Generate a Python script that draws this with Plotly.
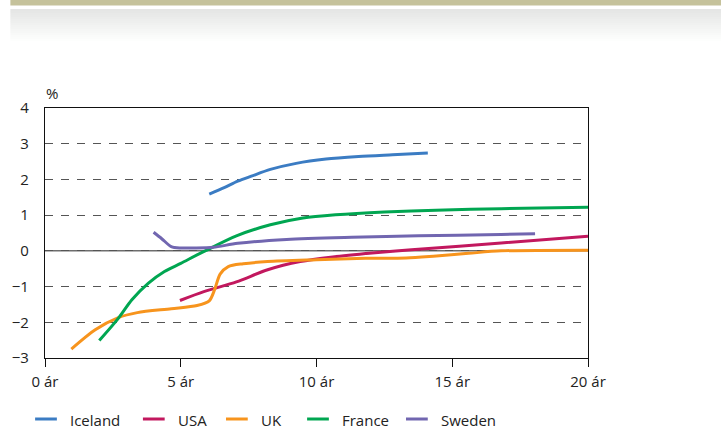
import plotly.graph_objects as go

# Yield curve data (years to maturity vs. %)
names = ["Iceland", "USA", "UK", "France", "Sweden"]
colors = ["#3b7cc3", "#c2185e", "#f7941d", "#00a651", "#7166b0"]

iceland_x = [6.05, 6.6, 7.1, 7.6, 8.3, 9.25, 10.35, 11.55, 12.8, 14.1]
iceland_y = [1.59, 1.77, 1.95, 2.09, 2.28, 2.45, 2.57, 2.64, 2.69, 2.74]

usa_x = [4.97, 5.85, 7.05, 8.2, 9.4, 10.6, 12.05, 13.5, 16.8, 20]
usa_y = [-1.39, -1.14, -0.87, -0.53, -0.30, -0.17, -0.06, 0.03, 0.22, 0.41]

uk_x = [0.97, 1.85, 2.7, 3.4, 4.65, 5.6, 6.05, 6.25, 6.45, 6.75, 7.3, 8.2,
        10.0, 11.8, 13.3, 14.3, 15.6, 16.8, 20]
uk_y = [-2.75, -2.21, -1.87, -1.73, -1.62, -1.53, -1.40, -1.08, -0.65, -0.44,
        -0.36, -0.30, -0.25, -0.21, -0.20, -0.15, -0.07, 0.0, 0.02]

france_x = [2.0, 2.7, 3.2, 3.8, 4.4, 5.0, 5.9, 7.05, 8.3, 9.5, 10.7, 12.5,
            14.4, 16.8, 20]
france_y = [-2.51, -1.89, -1.37, -0.91, -0.58, -0.35, 0.0, 0.42, 0.73, 0.92,
            1.01, 1.09, 1.14, 1.18, 1.22]

sweden_x = [4.0, 4.3, 4.65, 5.0, 5.5, 6.2, 7.1, 8.9, 11.3, 13.75, 16.8, 18.05]
sweden_y = [0.52, 0.34, 0.12, 0.08, 0.08, 0.10, 0.21, 0.32, 0.38, 0.42, 0.46, 0.48]

x_ticks = [0, 5, 10, 15, 20]
x_labels = ["0 ár", "5 ár", "10 ár", "15 ár", "20 ár"]
y_ticks = [-3, -2, -1, 0, 1, 2, 3, 4]

series = [
    (iceland_x, iceland_y),
    (usa_x, usa_y),
    (uk_x, uk_y),
    (france_x, france_y),
    (sweden_x, sweden_y),
]

FONT = "Open Sans"
TEXT = "#222"
W, H = 721, 439
ML, MR, MT, MB = 39, W - 588, 108, H - 358
PW, PH = W - ML - MR, H - MT - MB


def px(x):
    return (x - ML) / PW


def py(y):
    return (H - MB - y) / PH


fig = go.Figure()
for name, color, (xs, ys) in zip(names, colors, series):
    fig.add_trace(go.Scatter(
        x=xs, y=ys, mode="lines", name=name,
        line=dict(color=color, width=3, shape="spline", smoothing=0.8),
        showlegend=False, hoverinfo="skip",
    ))

shapes = []
# Header band and soft grey gradient beneath it
shapes.append(dict(type="rect", xref="paper", yref="paper", x0=px(4), x1=px(W + 2),
                   y0=py(-1), y1=py(5.5), fillcolor="#c5c29b", line_width=0, layer="below"))
top, bottom = 9, 43
steps = 17
for i in range(steps):
    t = i / (steps - 1)
    g = int(229 + (255 - 229) * t)
    y0 = top + (bottom - top) * i / steps
    y1 = top + (bottom - top) * (i + 1) / steps
    shapes.append(dict(type="rect", xref="paper", yref="paper", x0=px(4), x1=px(W + 2),
                       y0=py(y0), y1=py(y1 + 0.3), fillcolor=f"rgb({g},{g+1},{g})",
                       line_width=0, layer="below"))

# Zero line
shapes.append(dict(type="line", xref="paper", yref="y", x0=0, x1=1, y0=0, y1=0,
                   line=dict(color="#6e6e6e", width=1.5), layer="below"))

annotations = [dict(text="%", xref="paper", yref="paper", x=px(38), y=py(93),
                    xanchor="left", yanchor="middle", showarrow=False,
                    font=dict(family=FONT, size=15, color=TEXT))]

# Legend row
legend_x = [29, 138, 222, 304, 404]
legend_y = 419
for name, color, lx in zip(names, colors, legend_x):
    shapes.append(dict(type="line", xref="paper", yref="paper",
                       x0=px(lx), x1=px(lx + 22), y0=py(legend_y), y1=py(legend_y),
                       line=dict(color=color, width=3)))
    annotations.append(dict(text=name, xref="paper", yref="paper", x=px(lx + 33),
                            y=py(legend_y + 1), xanchor="left", yanchor="middle",
                            showarrow=False,
                            font=dict(family=FONT, size=15, color=TEXT)))

fig.update_layout(
    width=W, height=H,
    margin=dict(l=ML, r=MR, t=MT, b=MB, pad=0),
    paper_bgcolor="white", plot_bgcolor="white",
    showlegend=False,
    shapes=shapes, annotations=annotations,
    xaxis=dict(range=[0, 20], tickvals=x_ticks, ticktext=x_labels,
               showgrid=False, zeroline=False,
               showline=True, linecolor="#111", linewidth=1.3, mirror=True,
               ticks="outside", ticklen=8, tickwidth=1.3, tickcolor="#111",
               ticklabelstandoff=2,
               tickfont=dict(family=FONT, size=15, color=TEXT)),
    yaxis=dict(range=[-3, 4], tickvals=y_ticks,
               showgrid=True, gridcolor="#555", gridwidth=1.2, griddash="8px,8px",
               zeroline=False,
               showline=True, linecolor="#111", linewidth=1.3, mirror=True,
               ticks="", ticklabelstandoff=12,
               tickfont=dict(family=FONT, size=15, color=TEXT)),
)

fig.write_html("out.html")
